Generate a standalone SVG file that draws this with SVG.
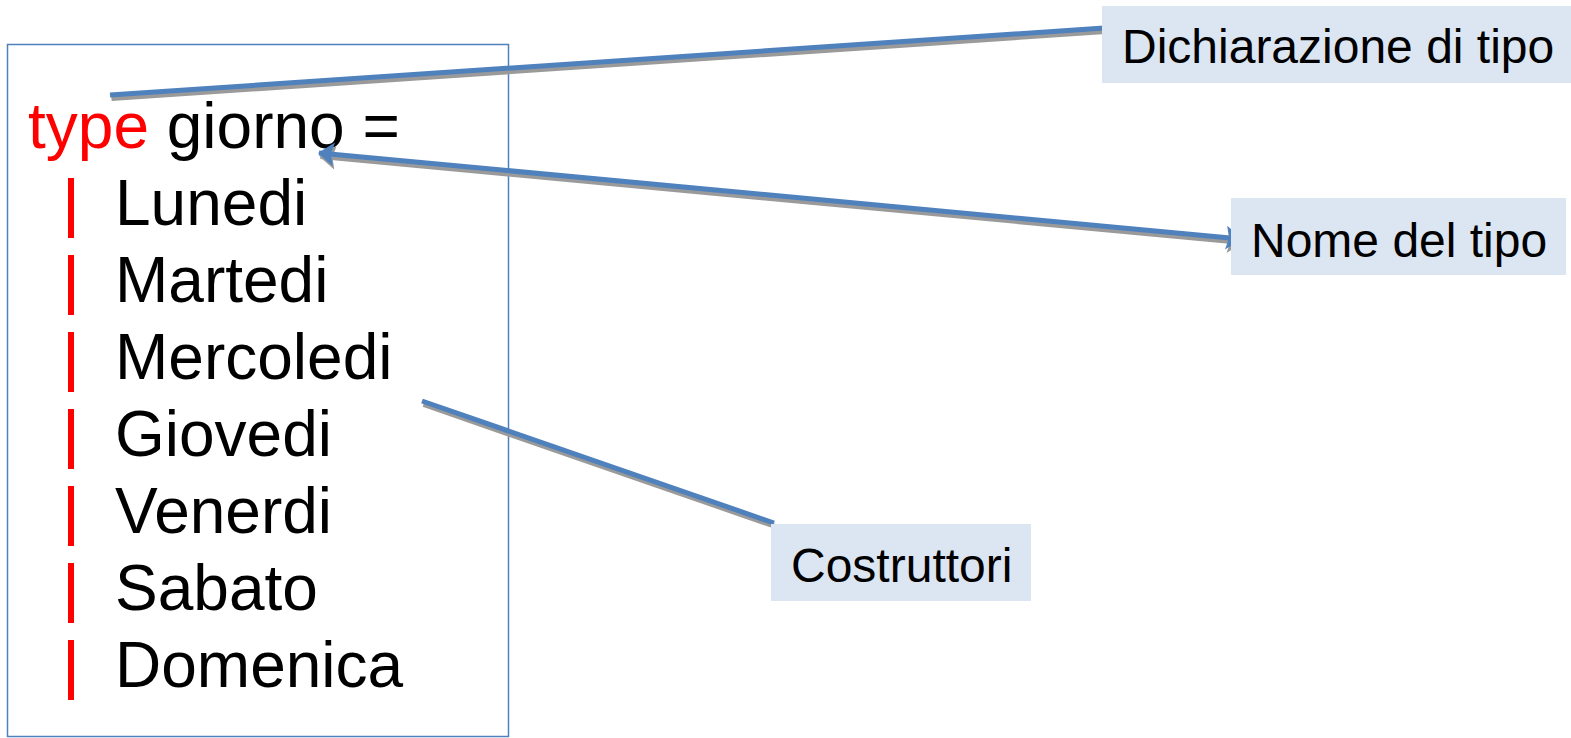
<svg xmlns="http://www.w3.org/2000/svg" width="1571" height="738" viewBox="0 0 1571 738">
  <style>
    .code { font-family: "Liberation Sans", Arial, sans-serif; font-size: 64px; fill: #000; }
    .kw { fill: #ff0000; }
    .bar { fill: #ff0000; }
    .label { font-family: "Liberation Sans", Arial, sans-serif; font-size: 48px; fill: #000; }
    .callout { fill: #dce6f2; }
    .wire { stroke: #4f81bd; stroke-width: 5; fill: none; }
    .wire-shadow { stroke: #9a9a9a; stroke-width: 5; fill: none; }
  </style>
  <defs>
    <marker id="tip" viewBox="0 0 16 24" refX="15" refY="12" markerWidth="16" markerHeight="24" markerUnits="userSpaceOnUse" orient="auto-start-reverse">
      <path d="M0,0 L16,12 L0,24 L3,12 Z" fill="#4f81bd"/>
    </marker>
    <marker id="tip-shadow" viewBox="0 0 16 24" refX="15" refY="12" markerWidth="16" markerHeight="24" markerUnits="userSpaceOnUse" orient="auto-start-reverse">
      <path d="M0,0 L16,12 L0,24 L3,12 Z" fill="#9a9a9a"/>
    </marker>
  </defs>

  <rect width="1571" height="738" fill="#ffffff"/>

  <!-- type declaration block -->
  <g id="declaration">
    <rect x="7.5" y="44.5" width="501" height="692" fill="none" stroke="#4f81bd" stroke-width="1.5"/>
    <text class="code" x="28" y="148"><tspan class="kw">type</tspan> giorno =</text>
    <rect class="bar" x="68" y="178" width="6" height="60"/>
    <rect class="bar" x="68" y="255" width="6" height="60"/>
    <rect class="bar" x="68" y="332" width="6" height="60"/>
    <rect class="bar" x="68" y="409" width="6" height="60"/>
    <rect class="bar" x="68" y="486" width="6" height="60"/>
    <rect class="bar" x="68" y="563" width="6" height="60"/>
    <rect class="bar" x="68" y="640" width="6" height="60"/>
    <text class="code" x="115" y="225">Lunedi</text>
    <text class="code" x="115" y="302">Martedi</text>
    <text class="code" x="115" y="379">Mercoledi</text>
    <text class="code" x="115" y="456">Giovedi</text>
    <text class="code" x="115" y="533">Venerdi</text>
    <text class="code" x="115" y="610">Sabato</text>
    <text class="code" x="115" y="687">Domenica</text>
  </g>

  <!-- connectors (drawn beneath the callout boxes) -->
  <g id="connectors">
    <g transform="translate(1.5,3.5)">
      <path class="wire-shadow" d="M110,95 L1104,28"/>
      <path class="wire-shadow" d="M319,153 L1241,239" marker-start="url(#tip-shadow)" marker-end="url(#tip-shadow)"/>
      <path class="wire-shadow" d="M422,401 L774,523"/>
    </g>
    <path class="wire" d="M110,95 L1104,28"/>
    <path class="wire" d="M319,153 L1241,239" marker-start="url(#tip)" marker-end="url(#tip)"/>
    <path class="wire" d="M422,401 L774,523"/>
  </g>

  <!-- callouts -->
  <g id="callout-dichiarazione">
    <rect class="callout" x="1102" y="6" width="469" height="77"/>
    <text class="label" x="1122" y="63">Dichiarazione di tipo</text>
  </g>
  <g id="callout-nome">
    <rect class="callout" x="1231" y="198" width="335" height="77"/>
    <text class="label" x="1251" y="257">Nome del tipo</text>
  </g>
  <g id="callout-costruttori">
    <rect class="callout" x="771" y="524" width="260" height="77"/>
    <text class="label" x="791" y="582">Costruttori</text>
  </g>
</svg>
